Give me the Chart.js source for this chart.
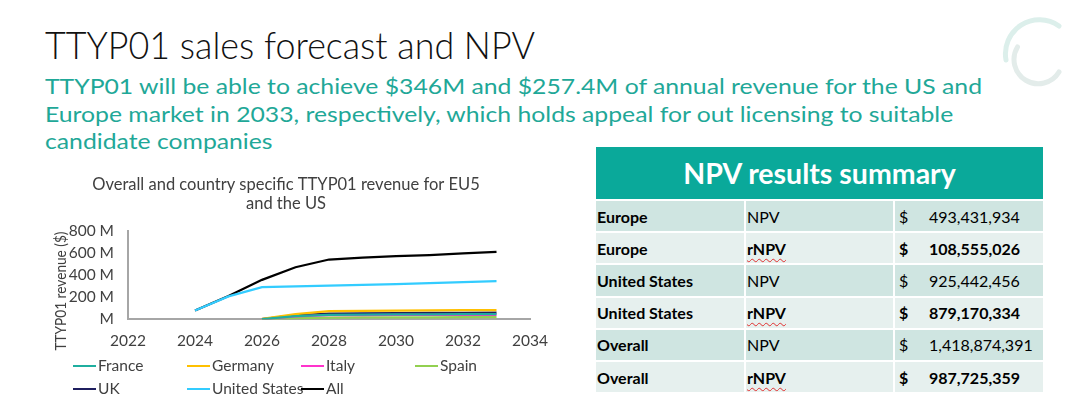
<!DOCTYPE html>
<html><head><meta charset="utf-8">
<script src="https://cdn.jsdelivr.net/npm/chart.js@4.4.1/dist/chart.umd.min.js"></script>
<style>
html,body{margin:0;padding:0;background:#fff;width:1080px;height:399px;overflow:hidden;font-family:Lato,'Liberation Sans',sans-serif;}
.abs{position:absolute;}
.fit{white-space:nowrap;transform-origin:0 0;}
#title{left:45px;top:26px;font-size:37px;line-height:37px;font-weight:300;color:#111;}
#sub{left:45px;top:72px;font-size:21px;line-height:27.5px;color:#1fa898;}
#chartWrap{left:40px;top:170px;width:520px;height:192px;}
#ytitle{left:-40px;width:200px;top:281px;height:20px;line-height:20px;text-align:center;font-size:15.5px;color:#404040;transform:rotate(-90deg) scaleX(0.88);transform-origin:50% 50%;white-space:nowrap;}
.lg{position:absolute;height:20px;line-height:20px;font-size:15.5px;color:#404040;white-space:nowrap;}
.lg i{display:inline-block;width:23px;height:2.5px;vertical-align:middle;margin-right:2px;position:relative;top:-1px;}
#thead{left:596px;top:147px;width:447px;height:52px;background:#0aa99a;color:#fff;font-weight:bold;font-size:28.5px;line-height:52px;text-align:center;}
#tbl{left:596px;top:201px;width:447px;border-collapse:separate;border-spacing:0;table-layout:fixed;font-size:16px;color:#000;}
#tbl td{height:30.2px;padding:0;border-bottom:2px solid #fff;white-space:nowrap;}
#tbl td.c1{padding-left:1px;font-weight:bold;}
#tbl td.c2{border-left:2px solid #fff;padding-left:1px;}
#tbl td.c3{border-left:2px solid #fff;padding-left:4px;}
#tbl td.c3 span{display:inline-block;width:30px;}
#tbl tr.odd td{background:#cfe5e1;}
#tbl tr.even td{background:#e6f0ee;}
#tbl tr.even td.c2,#tbl tr.even td.c3{font-weight:bold;}
.sp{text-decoration:underline wavy #e03030;text-decoration-thickness:1px;text-underline-offset:3px;}
</style></head>
<body>
<svg class="abs" style="left:995px;top:10px" width="75" height="85">
  <path d="M64 16 A34 34 0 0 0 11 50" fill="none" stroke="#dcefeb" stroke-width="5" stroke-linecap="round"/>
  <path d="M22.5 37 A24 24 0 0 0 64 62" fill="none" stroke="#e3ecea" stroke-width="5" stroke-linecap="round"/>
</svg>
<div id="title" class="abs fit">TTYP01 sales forecast and NPV</div>
<div id="sub" class="abs fit"><span id="subl1">TTYP01 will be able to achieve $346M and $257.4M of annual revenue for the US and</span><br>Europe market in 2033, respectively, which holds appeal for out licensing to suitable<br>candidate companies</div>
<div id="chartWrap" class="abs"><canvas id="c" width="520" height="192" style="width:520px;height:192px"></canvas></div>
<div id="ytitle" class="abs">TTYP01 revenue ($)</div>
<div id="legend"></div>
<div id="thead" class="abs">NPV results summary</div>
<table id="tbl" class="abs"><colgroup><col style="width:148px"><col style="width:149px"><col style="width:150px"></colgroup><tbody id="tb"></tbody></table>
<script>
// ---- data ----
const years = [2024, 2025, 2026, 2027, 2028, 2029, 2030, 2031, 2032, 2033];
const seriesNames = ['France', 'Germany', 'Italy', 'Spain', 'UK', 'United States', 'All'];
const france  = [null, null, 2, 30, 42, 44, 45, 46, 47, 48];
const germany = [null, null, 4, 48, 75, 78, 80, 82, 84, 85];
const italy   = [null, null, 2, 28, 38, 39, 40, 41, 41, 42];
const spain   = [null, null, 1, 12, 17, 18, 19, 19, 20, 20];
const uk      = [null, null, 3, 38, 52, 55, 57, 59, 60, 62];
const us      = [80, 208, 292, 299, 306, 313, 320, 328, 337, 346];
const all     = [80, 212, 358, 472, 542, 558, 572, 582, 598, 612];
const xTicks = [2022, 2024, 2026, 2028, 2030, 2032, 2034];
const yTicks = [0, 200, 400, 600, 800];
const tableRegions = ['Europe', 'Europe', 'United States', 'United States', 'Overall', 'Overall'];
const tableMetrics = ['NPV', 'rNPV', 'NPV', 'rNPV', 'NPV', 'rNPV'];
const tableValues  = ['493,431,934', '108,555,026', '925,442,456', '879,170,334', '1,418,874,391', '987,725,359'];

const seriesData = [france, germany, italy, spain, uk, us, all];
const seriesColors = ['#1fae9f', '#ffc000', '#ff33cc', '#92d050', '#1f1f5f', '#33ccff', '#000000'];

Chart.defaults.font.family = "Lato, 'Liberation Sans', sans-serif";
Chart.defaults.color = '#404040';

const chart = new Chart(document.getElementById('c'), {
  type: 'line',
  data: {
    datasets: seriesNames.map((n, i) => ({
      label: n,
      data: years.map((y, j) => ({x: y, y: seriesData[i][j]})),
      borderColor: seriesColors[i],
      backgroundColor: seriesColors[i],
      borderWidth: 2.25,
      pointRadius: 0,
      tension: 0,
      fill: false
    }))
  },
  options: {
    responsive: false, animation: false, devicePixelRatio: 1,
    layout: {padding: {left: 0, right: 28, top: 0, bottom: 0}},
    plugins: {
      legend: {display: false},
      tooltip: {enabled: false},
      title: {display: true, text: ['Overall and country specific TTYP01 revenue for EU5', 'and the US'],
        color: '#404040', font: {size: 16.5, weight: 'normal', lineHeight: 1.17}, padding: {top: 5, bottom: 17.4}}
    },
    scales: {
      x: {type: 'linear', min: 2022, max: 2034,
        afterBuildTicks: s => { s.ticks = xTicks.map(v => ({value: v})); },
        ticks: {color: '#404040', font: {size: 15.5}, padding: 12, callback: v => String(v), maxRotation: 0, autoSkip: false},
        grid: {display: false, drawTicks: false},
        border: {display: true, color: '#a6a6a6', width: 2}},
      y: {min: 0, max: 800,
        afterBuildTicks: s => { s.ticks = yTicks.map(v => ({value: v})); },
        ticks: {color: '#404040', font: {size: 15.5}, padding: 14, autoSkip: false, callback: v => v === 0 ? 'M' : v + ' M'},
        grid: {display: false, drawTicks: false},
        border: {display: true, color: '#a6a6a6', width: 2},
        afterFit: s => { s.width = 88; }}
    }
  }
});

// legend built from chart datasets
const legPos = [[73, 365], [187, 365], [301, 365], [415, 365], [73, 388], [187, 388], [301, 388]];
const lg = document.getElementById('legend');
chart.data.datasets.forEach((d, i) => {
  const el = document.createElement('div');
  el.className = 'lg';
  el.style.left = legPos[i][0] + 'px';
  el.style.top = (legPos[i][1] - 10) + 'px';
  el.innerHTML = '<i style="background:' + d.borderColor + '"></i>' + d.label;
  lg.appendChild(el);
});

// table
const tb = document.getElementById('tb');
tableRegions.forEach((r, i) => {
  const tr = document.createElement('tr');
  tr.className = i % 2 === 0 ? 'odd' : 'even';
  const m = tableMetrics[i] === 'rNPV' ? '<span class="sp">rNPV</span>' : tableMetrics[i];
  tr.innerHTML = '<td class="c1">' + r + '</td><td class="c2">' + m + '</td><td class="c3"><span>$</span>' + tableValues[i] + '</td>';
  tb.appendChild(tr);
});

// fit text widths
function fit() {
  const t = document.getElementById('title');
  t.style.transform = 'scaleX(' + (490 / t.getBoundingClientRect().width) + ')';
  const s = document.getElementById('sub');
  const l1 = document.getElementById('subl1');
  s.style.transform = 'scaleX(' + (937 / l1.getBoundingClientRect().width) + ')';
}
fit();
</script>
</body></html>
